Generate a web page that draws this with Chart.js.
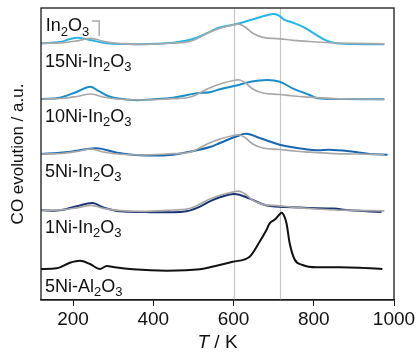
<!DOCTYPE html>
<html><head><meta charset="utf-8">
<script src="https://cdn.jsdelivr.net/npm/chart.js@4/dist/chart.umd.min.js"></script>
<style>html,body{margin:0;padding:0;background:#fff}</style>
</head><body>
<canvas id="c" width="418" height="356"></canvas>
<script>
// ---- data (temperature in K, CO signal in a.u. relative to each trace's own baseline) ----
const xTicks = [200, 400, 600, 800, 1000];
const refLinesK = [600, 715];
const seriesNames = ['15Ni-In_2O_3', '10Ni-In_2O_3', '5Ni-In_2O_3', '1Ni-In_2O_3', '5Ni-Al_2O_3'];
const refName = 'In_2O_3';
// vertical stacking offsets of the traces (a.u.)
const stackOffsets = [256.7, 201, 146, 89.7, 31];

const tIn2O3 = [120,170,210,245,275,310,370,450,480,500,520,540,570,600,615,630,648,673,715,750,790,850,900,976];
const vIn2O3 = [0,0.5,2.5,5,2,0,-1,0.3,1,3,7,11,15.5,18.5,19,16,10,6,4.5,3,1.8,0.3,0,-0.5];

const t15Ni = [120,167,190,212,242,284,330,366,410,449,480,508,541,566,607,640,665,698,712,725,745,772,800,832,857,900,976];
const v15Ni = [0,1.3,4,5.5,3.3,0,-0.7,-1,-0.5,0.6,2.5,5.5,11.5,15.8,19.3,23,26,29.3,28,24,21,16.6,10,2.6,0,-0.7,-1];

const t10Ni = [120,167,210,242,262,292,349,400,449,508,541,566,607,640,683,715,747,790,810,872,976];
const v10Ni = [0,1.3,7.3,12.3,8.3,2.3,-1,-0.3,1.3,5.7,6.7,9.7,13.5,17,19,17.3,10.7,4,0.7,0,-0.3];

const t5Ni = [120,167,200,259,309,366,449,508,541,566,608,633,665,715,747,807,839,889,939,984];
const v5Ni = [0,1.3,2.7,5.7,1.3,-1.3,-0.7,3.7,7,11,17.7,20.3,16,9.3,6.7,3.7,4.3,2.7,0,-0.7];

const t1Ni = [120,167,209,249,274,317,380,449,483,500,520,541,566,603,640,683,747,832,850,889,969];
const v1Ni = [0,0,4,7.3,3,-1,-1.8,-2,-1,1,4.5,9,13,16.3,11.7,4.7,3,1.7,1.8,0,-1.7];

const tAl = [120,159,192,217,242,267,284,304,349,434,516,541,598,640,665,682,690,703,715,720,727,732,740,752,772,807,864,914,971];
const vAl = [0,0.7,6.3,8.3,5,0,3,1.7,-0.3,-1.7,-0.3,1.7,7.3,12.3,27.3,39,45.7,49.5,54.7,56.3,52.3,45.7,25.7,9.7,4,1.7,1.7,1.3,0];

// ---- build ----
const pts = (t, v, off) => t.map((k, i) => ({x: k, y: v[i] + off}));
const colors = ['#27b4e6', '#1a8dc8', '#1a67b1', '#1b3474', '#111111'];
const grayCol = '#a8a8a8';
const traces = [[t15Ni, v15Ni], [t10Ni, v10Ni], [t5Ni, v5Ni], [t1Ni, v1Ni], [tAl, vAl]];

const datasets = [];
for (let i = 0; i < 4; i++) {
  datasets.push({label: 'In2O3 ref ' + i, data: pts(tIn2O3, vIn2O3, stackOffsets[i]),
    borderColor: grayCol, borderWidth: 1.7, tension: 0.4});
}
traces.forEach((tr, i) => {
  const d = {label: seriesNames[i], data: pts(tr[0], tr[1], stackOffsets[i]),
    borderColor: colors[i], borderWidth: 2, tension: 0.4};
  if (i === 4) d.cubicInterpolationMode = 'monotone';
  datasets.push(d);
});
datasets.forEach(d => { d.pointRadius = 0; d.fill = false; });

const FONT = '"Liberation Sans", Arial, sans-serif';
function drawRich(ctx, str, x, y, size) {
  let cx = x;
  ctx.textBaseline = 'alphabetic'; ctx.textAlign = 'left';
  for (let i = 0; i < str.length; i++) {
    if (str[i] === '_') {
      i++;
      ctx.font = Math.round(size * 0.7) + 'px ' + FONT;
      ctx.fillText(str[i], cx, y + size * 0.25);
      cx += ctx.measureText(str[i]).width;
    } else {
      ctx.font = size + 'px ' + FONT;
      ctx.fillText(str[i], cx, y);
      cx += ctx.measureText(str[i]).width;
    }
  }
}

const decor = {
  id: 'decor',
  beforeDatasetsDraw(chart) {
    const {ctx, chartArea: a, scales: {x}} = chart;
    ctx.save(); ctx.strokeStyle = '#c6c6c6'; ctx.lineWidth = 1.2;
    refLinesK.forEach(k => {
      const px = Math.round(x.getPixelForValue(k)) + 0.5;
      ctx.beginPath(); ctx.moveTo(px, a.top); ctx.lineTo(px, a.bottom); ctx.stroke();
    });
    ctx.restore();
  },
  afterDraw(chart, args, o) {
    const {ctx, chartArea: a, scales: {x, y}} = chart;
    ctx.save();
    ctx.strokeStyle = '#1a1a1a'; ctx.lineWidth = 1.3;
    ctx.strokeRect(a.left, a.top, a.right - a.left, a.bottom - a.top);
    ctx.fillStyle = '#111';
    seriesNames.forEach((s, i) => drawRich(ctx, s, x.getPixelForValue(o.labelX), y.getPixelForValue(o.labelY[i]), 18));
    drawRich(ctx, refName, x.getPixelForValue(o.refLabel[0]), y.getPixelForValue(o.refLabel[1]), 18);
    // bracket from In2O3 label to its trace
    ctx.strokeStyle = grayCol; ctx.lineWidth = 1.4;
    ctx.beginPath();
    ctx.moveTo(x.getPixelForValue(o.bracket[0]), y.getPixelForValue(o.bracket[2]));
    ctx.lineTo(x.getPixelForValue(o.bracket[1]), y.getPixelForValue(o.bracket[2]));
    ctx.lineTo(x.getPixelForValue(o.bracket[1]), y.getPixelForValue(o.bracket[3]));
    ctx.stroke();
    // x title
    ctx.fillStyle = '#111'; ctx.textBaseline = 'alphabetic'; ctx.textAlign = 'left';
    ctx.font = 'italic 19px ' + FONT; const wT = ctx.measureText('T').width;
    ctx.font = '19px ' + FONT; const wR = ctx.measureText(' / K').width;
    const cx = (a.left + a.right) / 2 - (wT + wR) / 2, by = a.bottom + 48;
    ctx.font = 'italic 19px ' + FONT; ctx.fillText('T', cx, by);
    ctx.font = '19px ' + FONT; ctx.fillText(' / K', cx + wT, by);
    // y title
    ctx.translate(18, (a.top + a.bottom) / 2); ctx.rotate(-Math.PI / 2);
    ctx.textAlign = 'center'; ctx.textBaseline = 'middle'; ctx.font = '17px ' + FONT;
    ctx.fillText('CO evolution / a.u.', 0, 0);
    ctx.restore();
  }
};

new Chart(document.getElementById('c'), {
  type: 'line',
  data: {datasets},
  options: {
    responsive: false, animation: false, devicePixelRatio: 1,
    layout: {padding: {left: 41, right: 24, top: 8, bottom: 0}},
    plugins: {
      legend: {display: false}, tooltip: {enabled: false},
      decor: {labelX: 130, labelY: [233.5, 178.3, 123.3, 67.3, 8.3], refLabel: [132, 269], bracket: [247, 265, 279, 264]}
    },
    scales: {
      x: {type: 'linear', min: 120, max: 1000, position: 'bottom',
        afterBuildTicks: s => { s.ticks = xTicks.map(v => ({value: v})); },
        afterFit: s => { s.height = 56; },
        ticks: {color: '#111', font: {size: 19, family: FONT}, padding: 2, maxRotation: 0,
          callback: v => String(v)},
        grid: {display: true, drawOnChartArea: false, drawTicks: true, tickLength: 6, color: '#1a1a1a'},
        border: {display: true, color: '#1a1a1a', width: 1.3}
      },
      y: {display: false, min: 0, max: 292}
    }
  },
  plugins: [decor]
});
</script>
</body></html>
